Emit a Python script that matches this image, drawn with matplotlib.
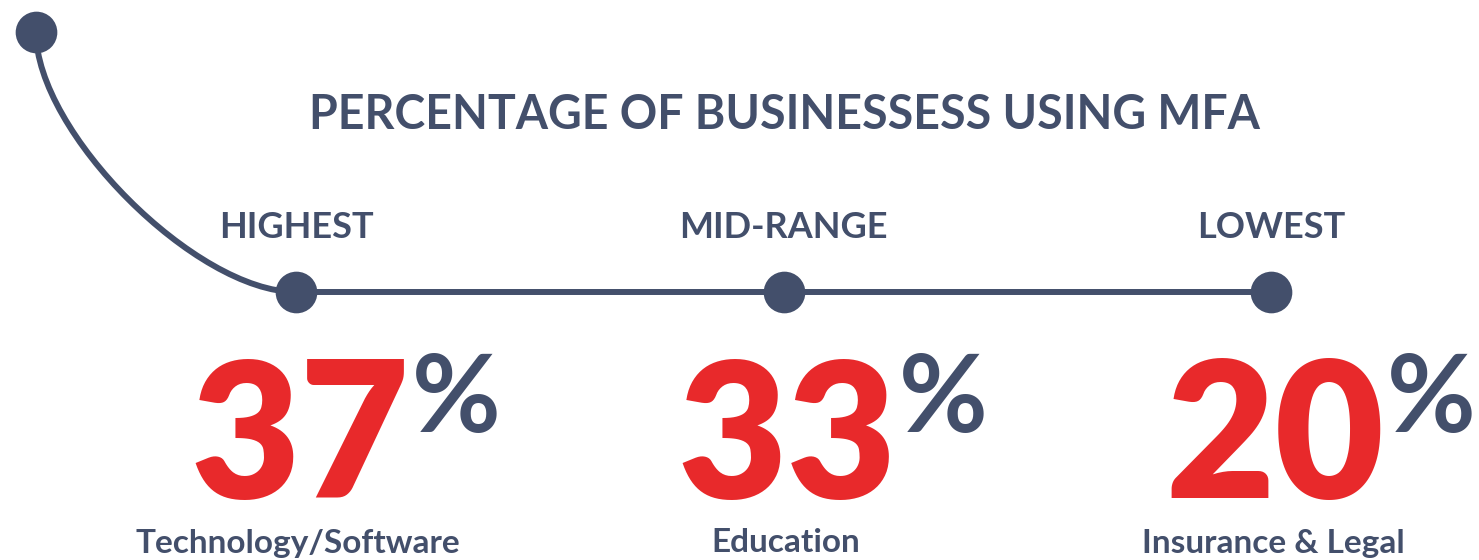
import numpy as np
import matplotlib
matplotlib.use("Agg")
import matplotlib.pyplot as plt
from matplotlib.path import Path
from matplotlib.patches import PathPatch

title = "PERCENTAGE OF BUSINESSESS USING MFA"
levels = ["HIGHEST", "MID-RANGE", "LOWEST"]
values = [37, 33, 20]
sectors = ["Technology/Software", "Education", "Insurance & Legal"]

navy = "#434f6b"
red = "#e8292b"
font = "Lato"

W, H = 1479, 560
fig = plt.figure(figsize=(W / 100, H / 100), dpi=100)
ax = fig.add_axes([0, 0, 1, 1])
ax.set_xlim(0, W)
ax.set_ylim(H, 0)
ax.axis("off")

# layout in pixel units
x0, step, y_line = 296, 487.5, 292
xs = [x0 + i * step for i in range(len(values))]
start = (36, 32)

# curved lead-in from top-left dot to the first stop
h = 100
verts = [start, (start[0], start[1] + h), (xs[0] - h, y_line), (xs[0], y_line)]
codes = [Path.MOVETO, Path.CURVE4, Path.CURVE4, Path.CURVE4]
ax.add_patch(PathPatch(Path(verts, codes), fill=False, edgecolor=navy, lw=4.3,
                       capstyle="round"))
ax.plot([xs[0], xs[-1]], [y_line, y_line], color=navy, lw=4.3,
        solid_capstyle="round")
ax.plot([start[0]] + xs, [start[1]] + [y_line] * len(xs), "o", color=navy,
        ms=30, mec="none")

ax.text(784, 115, title, ha="center", va="center", color=navy,
        fontsize=33.5, fontweight="bold", family=font)

fig.canvas.draw()
for x, lev, v, sec in zip(xs, levels, values, sectors):
    ax.text(x, 227, lev, ha="center", va="center", color=navy,
            fontsize=26, fontweight="bold", family=font)
    t = ax.text(x + 4, 442, str(v), ha="center", va="center", color=red,
                fontsize=136, fontweight="heavy", family=font)
    bb = t.get_window_extent(renderer=fig.canvas.get_renderer())
    xr = ax.transData.inverted().transform((bb.x1, 0))[0]
    ax.text(xr + 2, 401, "%", ha="left", va="center", color=navy,
            fontsize=78, fontweight="bold", family=font)
    ax.text(x + 2, 543, sec, ha="center", va="center", color=navy,
            fontsize=24, fontweight="bold", family=font)

fig.savefig("out.png", dpi=100, facecolor="white")
